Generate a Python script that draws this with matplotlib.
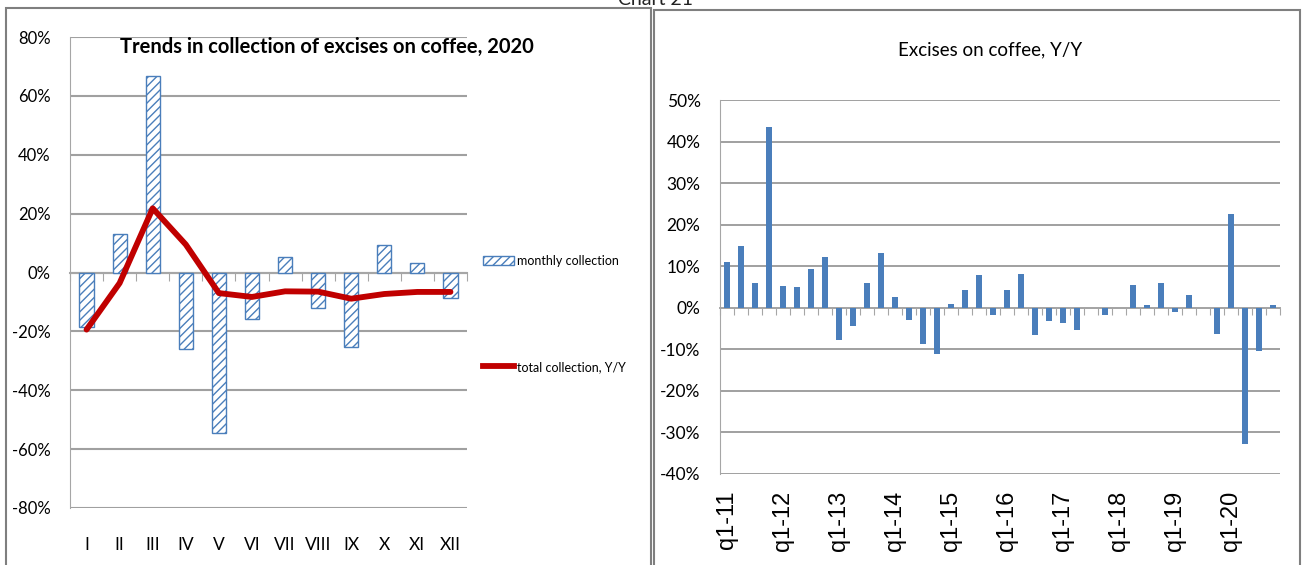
import numpy as np
import matplotlib
matplotlib.use("Agg")
import matplotlib.pyplot as plt
import matplotlib.transforms as mtransforms
from matplotlib.patches import Rectangle, Patch
from matplotlib.lines import Line2D

# ---- data: left chart (2020, monthly) ----
months = ["I", "II", "III", "IV", "V", "VI", "VII", "VIII", "IX", "X", "XI", "XII"]
monthly_collection = [-0.186, 0.131, 0.669, -0.261, -0.544, -0.158, 0.053, -0.121, -0.252, 0.094, 0.033, -0.087]
total_collection_yy = [-0.194, -0.036, 0.218, 0.095, -0.070, -0.083, -0.064, -0.065, -0.089, -0.073, -0.066, -0.066]

# ---- data: right chart (quarterly, q1-11 .. q4-20) ----
quarters = [f"q{q}-{y}" for y in range(11, 21) for q in range(1, 5)]
excises_yy = [0.109, 0.149, 0.059, 0.435, 0.053, 0.050, 0.093, 0.123,
              -0.077, -0.044, 0.059, 0.133, 0.025, -0.029, -0.086, -0.111,
              0.010, 0.043, 0.078, -0.017, 0.043, 0.081, -0.065, -0.033,
              -0.036, -0.053, 0.0, -0.017, 0.0, 0.056, 0.007, 0.060,
              -0.010, 0.031, 0.0, -0.062, 0.226, -0.328, -0.103, 0.007]

W, H = 1303, 565
fig = plt.figure(figsize=(W / 100, H / 100), dpi=100)


def fbox(x0, y0, x1, y1):
    # pixel box (top-left origin) -> figure fraction [l, b, w, h]
    return [x0 / W, 1 - y1 / H, (x1 - x0) / W, (y1 - y0) / H]


def pct(v):
    return f"{abs(round(v * 100)) if round(v * 100) == 0 else round(v * 100)}%"


grid_c = "#a0a0a0"
axis_c = "#a6a6a6"
sans = ["Lato", "DejaVu Sans"]

# panel frames
fig.patches.append(Rectangle((6 / W, -0.05), (651 - 6) / W, 1.05 - 8 / H,
                             transform=fig.transFigure, fill=False, ec="#7f7f7f", lw=1.5))
fig.patches.append(Rectangle((654 / W, -0.05), (1300 - 654) / W, 1.05 - 10 / H,
                             transform=fig.transFigure, fill=False, ec="#7f7f7f", lw=1.5))
fig.text(655 / W, 1 - 5 / H, "Chart 21", ha="center", va="baseline", fontsize=14,
         family=sans, color="#222222")

# ================= LEFT CHART =================
ax1 = fig.add_axes(fbox(70, 37, 467, 508))
x = np.arange(len(months))
ax1.bar(x, monthly_collection, width=0.43, color="white", edgecolor="#4a7ebb",
        hatch="////", linewidth=1.0, zorder=3)
ax1.plot(x, total_collection_yy, color="#c00000", lw=4.2, solid_joinstyle="round",
         solid_capstyle="round", zorder=4)
ax1.set_xlim(-0.5, len(months) - 0.5)
ax1.set_ylim(-0.8, 0.8)
yt = np.arange(-0.8, 0.81, 0.2)
ax1.set_yticks(yt)
ax1.set_yticklabels([pct(v) for v in yt], family=sans, fontsize=12)
ax1.tick_params(axis="y", length=0, pad=14)
ax1.grid(axis="y", color=grid_c, lw=1.5, zorder=0)
for s in ["top", "right"]:
    ax1.spines[s].set_visible(False)
ax1.spines["left"].set_color(axis_c)
ax1.spines["bottom"].set_position(("data", 0))
ax1.spines["bottom"].set_color(axis_c)
ax1.spines["bottom"].set_linewidth(1.5)
ax1.set_xticks(np.arange(-0.5, len(months)))
ax1.set_xticklabels([])
ax1.tick_params(axis="x", length=6, color=axis_c, direction="out")
tr1 = mtransforms.blended_transform_factory(ax1.transData, ax1.transAxes)
for i, m in enumerate(months):
    ax1.text(i, -0.078, m, transform=tr1, ha="center", va="center",
             family=sans, fontsize=12.5)
fig.text(327 / W, 1 - 47 / H, "Trends in collection of excises on coffee, 2020",
         ha="center", va="center", fontsize=14.5, fontweight="bold", family=sans)

handles = [Patch(facecolor="white", edgecolor="#4a7ebb", hatch="////", lw=1.0),
           Line2D([], [], color="#c00000", lw=4.2)]
leg = fig.legend(handles, ["monthly collection", "total collection, Y/Y"],
                 loc="upper left", bbox_to_anchor=(483 / W, 1 - 255 / H),
                 frameon=False, prop={"family": sans, "size": 9},
                 labelspacing=7.5, handlelength=2.5, handletextpad=0.25,
                 borderaxespad=0, borderpad=0)

# ================= RIGHT CHART =================
ax2 = fig.add_axes(fbox(720, 100, 1280, 474))
xq = np.arange(len(quarters))
ax2.bar(xq, excises_yy, width=0.38, color="#4a7ebb", zorder=3)
ax2.set_xlim(-0.5, len(quarters) - 0.5)
ax2.set_ylim(-0.4, 0.5)
yt2 = np.arange(-0.4, 0.51, 0.1)
ax2.set_yticks(yt2)
ax2.set_yticklabels([pct(v) for v in yt2], family=sans, fontsize=12.5)
ax2.tick_params(axis="y", length=0, pad=14)
ax2.grid(axis="y", color=grid_c, lw=1.4, zorder=0)
for s in ["top", "right"]:
    ax2.spines[s].set_visible(False)
ax2.spines["left"].set_color(axis_c)
ax2.spines["bottom"].set_position(("data", 0))
ax2.spines["bottom"].set_color(axis_c)
ax2.spines["bottom"].set_linewidth(1.4)
ax2.set_xticks(np.arange(-0.5, len(quarters)))
ax2.set_xticklabels([])
ax2.tick_params(axis="x", length=5, color=axis_c, direction="out")
tr2 = mtransforms.blended_transform_factory(ax2.transData, ax2.transAxes)
for i in range(0, len(quarters), 4):
    ax2.text(i, -0.045, quarters[i], transform=tr2, ha="center", va="top",
             rotation=90, fontsize=17, family=["Liberation Sans", "DejaVu Sans"])
fig.text(990 / W, 1 - 50 / H, "Excises on coffee, Y/Y", ha="center", va="center",
         fontsize=13.5, family=sans)

fig.savefig("out.png", dpi=100)
